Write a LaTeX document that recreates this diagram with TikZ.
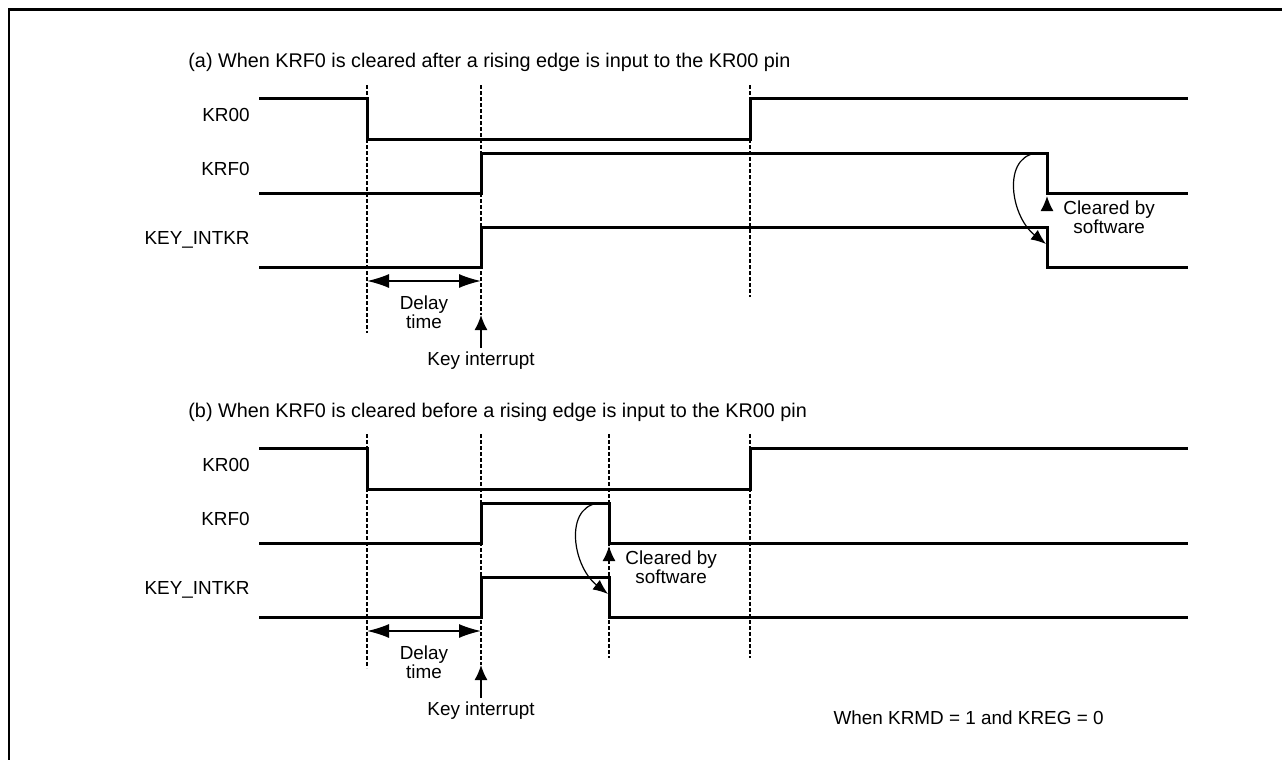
\documentclass[tikz,border=0pt]{standalone}
\usepackage{fontspec}
\setmainfont{Liberation Sans}
\usetikzlibrary{arrows.meta}
\tikzset{sig/.style={line width=1.5pt},vl/.style={line width=1.2pt,dash pattern=on 2pt off 1pt},
lbl/.style={anchor=east,inner sep=0pt},txt/.style={align=center,inner sep=0pt},
dly/.style={line width=0.75pt,{Latex[length=11pt,width=7pt]}-{Latex[length=11pt,width=7pt]}},
up/.style={line width=0.75pt,-{Latex[length=7.5pt,width=6.5pt]}},
crv/.style={line width=0.6pt,-{Latex[length=7.5pt,width=6pt]}}}

\begin{document}
\begin{tikzpicture}[x=0.5pt,y=-0.5pt,font=\fontsize{9.45}{9.6}\selectfont]
\useasboundingbox (0,0) rectangle (1282,760);
\draw[line width=1.4pt] (9,780) -- (9,9.5) -- (1300,9.5);
% dotted guide lines
\foreach\x/\e in{367/333,481/315,750/297}\draw[vl](\x,85)--(\x,\e);
\foreach\x/\e in{367/668,481/665,609/658,750/658}\draw[vl](\x,434)--(\x,\e);
\foreach\p/\dy/\c/\w in{a/0/1047/after,b/350/609/before}{
\begin{scope}[shift={(0,\dy)}]
\node[txt,anchor=west,font=\fontsize{9.9}{10}\selectfont](\p-title)at(188,62){(\p) When KRF0 is cleared \w\ a rising edge is input to the KR00 pin};
\node[lbl](\p-kr00)at(250,115){KR00};
\node[lbl](\p-krf0)at(250,169){KRF0};
\node[lbl](\p-intkr)at(250,240){KEY\_INTKR};
\draw[sig](259,98)-|(367,139)-|(750,98)--(1188,98);
\draw[sig](259,193)-|(481,153)-|(\c,193)--(1188,193);
\draw[sig](259,267)-|(481,227)-|(\c,267)--(1188,267);
\coordinate(\p-d0)at(367,281);\coordinate(\p-d1)at(481,281);
\draw[dly](\p-d0)--(\p-d1);
\node[txt](\p-delay)at(424,312){Delay\\time};
\node[txt](\p-key)at(481,361){Key interrupt};\coordinate(\p-kt)at(481,315);
\draw[up]([yshift=2pt]\p-key.north)--(\p-kt);
\coordinate(\p-c0)at(\c,211);\coordinate(\p-c1)at(\c,196);
\draw[up](\p-c0)--(\p-c1);
\node[txt,anchor=west](\p-clr)at({\c+16},217){Cleared by\\software};
\coordinate(\p-s0)at({\c-4},153);\coordinate(\p-s1)at({\c-1},244);
\draw[crv](\p-s0)..controls({\c-46},150)and({\c-38},215)..(\p-s1);
\end{scope}}
\node[txt,anchor=east](note)at(1104,718){When KRMD = 1 and KREG = 0};
\end{tikzpicture}
\end{document}
